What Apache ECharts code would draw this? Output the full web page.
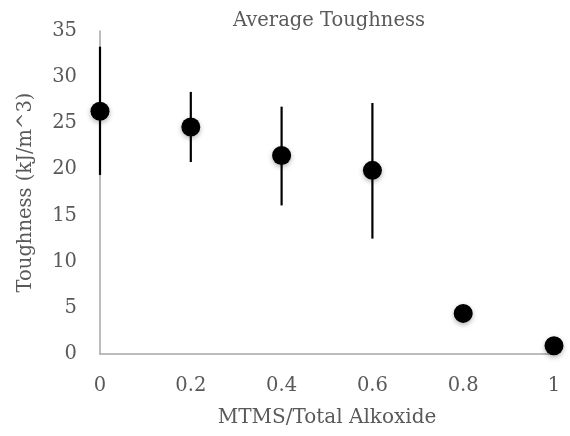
<!DOCTYPE html>
<html>
<head>
<meta charset="utf-8">
<script src="https://cdn.jsdelivr.net/npm/echarts@6/dist/echarts.min.js"></script>
<style>
  html, body { margin: 0; padding: 0; background: #fff; }
  #chart { width: 570px; height: 436px; }
</style>
</head>
<body>
<div id="chart"></div>
<script>
// data
const ratio = [0, 0.2, 0.4, 0.6, 0.8, 1]
const toughness = [26.3, 24.6, 21.5, 19.9, 4.4, 0.9]
const errLow = [19.4, 20.8, 16.1, 12.5, 4.4, 0.9]
const errHigh = [33.3, 28.4, 26.8, 27.2, 4.4, 0.9]
const yTicks = [0, 5, 10, 15, 20, 25, 30, 35]

const font = 'DejaVu Serif'
const grey = '#595959'

const chart = echarts.init(document.getElementById('chart'))

const points = ratio.map((x, i) => [x, toughness[i]])
const bars = ratio.map((x, i) => [x, errLow[i], errHigh[i]])

const option = {
  animation: false,
  title: {
    text: 'Average Toughness',
    left: 324,
    top: 6,
    textAlign: 'center',
    textStyle: { fontFamily: font, fontSize: 19.5, fontWeight: 'normal', color: grey }
  },
  grid: { left: 100, right: 16, top: 31, bottom: 82, outerBoundsMode: 'none' },
  xAxis: {
    type: 'value',
    min: 0,
    max: 1,
    interval: 0.2,
    name: 'MTMS/Total Alkoxide',
    nameLocation: 'middle',
    nameGap: 54,
    nameTextStyle: { fontFamily: font, fontSize: 20, color: grey },
    axisLine: { lineStyle: { color: '#a6a6a6', width: 1.5 } },
    axisTick: { show: false },
    splitLine: { show: false },
    axisLabel: { fontFamily: font, fontSize: 19.5, color: grey, margin: 22 }
  },
  yAxis: {
    type: 'value',
    min: yTicks[0],
    max: yTicks[yTicks.length - 1],
    interval: 5,
    name: 'Toughness (kJ/m^3)',
    nameLocation: 'middle',
    nameGap: 64,
    nameTextStyle: { fontFamily: font, fontSize: 19.5, color: grey },
    axisLine: { show: true, lineStyle: { color: '#a6a6a6', width: 1.5 } },
    axisTick: { show: false },
    splitLine: { show: false },
    axisLabel: { fontFamily: font, fontSize: 19.5, color: grey, margin: 23 }
  },
  series: [
    {
      type: 'custom',
      data: bars,
      renderItem: function (params, api) {
        const x = api.value(0)
        const lo = api.coord([x, api.value(1)])
        const hi = api.coord([x, api.value(2)])
        return {
          type: 'line',
          shape: { x1: lo[0], y1: lo[1], x2: hi[0], y2: hi[1] },
          style: { stroke: '#000', lineWidth: 2.2 }
        }
      },
      z: 2
    },
    {
      type: 'scatter',
      data: points,
      symbol: 'circle',
      symbolSize: 19,
      itemStyle: {
        color: '#000',
        opacity: 1,
        shadowBlur: 5,
        shadowOffsetY: 2,
        shadowColor: 'rgba(0,0,0,0.3)'
      },
      z: 3
    }
  ]
}

chart.setOption(option)
</script>
</body>
</html>
